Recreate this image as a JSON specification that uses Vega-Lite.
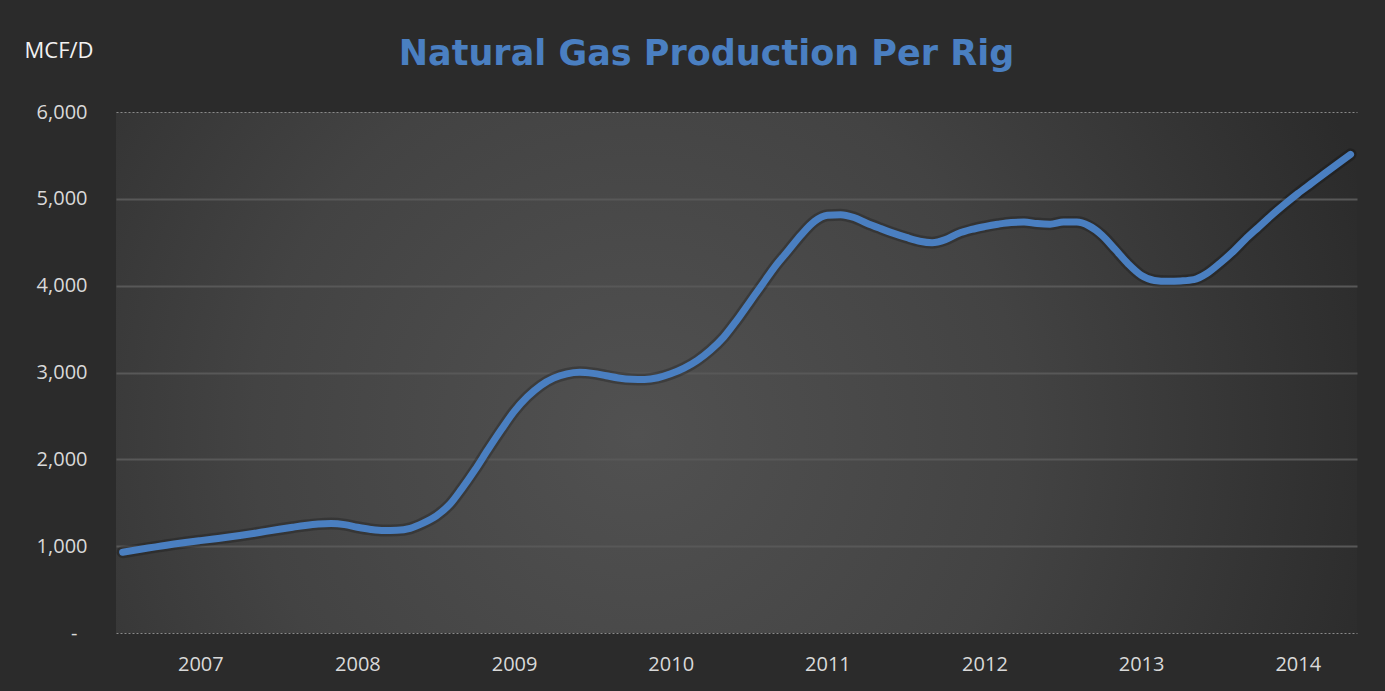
{
  "$schema": "https://vega.github.io/schema/vega-lite/v6.json",
  "width": 1241,
  "height": 521,
  "autosize": {"type": "none"},
  "padding": {"left": 116, "top": 112, "right": 28, "bottom": 58},
  "background": "#2b2b2b",
  "title": {
    "text": "Natural Gas Production Per Rig",
    "color": "#4a7fc1",
    "font": "DejaVu Sans",
    "fontSize": 35,
    "fontWeight": "bold",
    "anchor": "middle",
    "frame": "group",
    "baseline": "alphabetic",
    "dx": -30,
    "offset": -61
  },
  "data": {
    "values": [
      {"date": "2007/01/01", "mcfd": 930},
      {"date": "2007/02/01", "mcfd": 955},
      {"date": "2007/03/01", "mcfd": 978},
      {"date": "2007/04/01", "mcfd": 1001},
      {"date": "2007/05/01", "mcfd": 1024},
      {"date": "2007/06/01", "mcfd": 1045},
      {"date": "2007/07/01", "mcfd": 1064},
      {"date": "2007/08/01", "mcfd": 1083},
      {"date": "2007/09/01", "mcfd": 1102},
      {"date": "2007/10/01", "mcfd": 1122},
      {"date": "2007/11/01", "mcfd": 1145},
      {"date": "2007/12/01", "mcfd": 1170},
      {"date": "2008/01/01", "mcfd": 1195},
      {"date": "2008/02/01", "mcfd": 1218},
      {"date": "2008/03/01", "mcfd": 1238},
      {"date": "2008/04/01", "mcfd": 1254},
      {"date": "2008/05/01", "mcfd": 1260},
      {"date": "2008/06/01", "mcfd": 1248},
      {"date": "2008/07/01", "mcfd": 1218},
      {"date": "2008/08/01", "mcfd": 1193},
      {"date": "2008/09/01", "mcfd": 1180},
      {"date": "2008/10/01", "mcfd": 1182},
      {"date": "2008/11/01", "mcfd": 1205},
      {"date": "2008/12/01", "mcfd": 1265},
      {"date": "2009/01/01", "mcfd": 1350},
      {"date": "2009/02/01", "mcfd": 1480},
      {"date": "2009/03/01", "mcfd": 1660},
      {"date": "2009/04/01", "mcfd": 1880},
      {"date": "2009/05/01", "mcfd": 2110},
      {"date": "2009/06/01", "mcfd": 2340},
      {"date": "2009/07/01", "mcfd": 2550},
      {"date": "2009/08/01", "mcfd": 2720},
      {"date": "2009/09/01", "mcfd": 2850},
      {"date": "2009/10/01", "mcfd": 2935},
      {"date": "2009/11/01", "mcfd": 2985},
      {"date": "2009/12/01", "mcfd": 3003},
      {"date": "2010/01/01", "mcfd": 2990},
      {"date": "2010/02/01", "mcfd": 2962},
      {"date": "2010/03/01", "mcfd": 2937},
      {"date": "2010/04/01", "mcfd": 2922},
      {"date": "2010/05/01", "mcfd": 2920},
      {"date": "2010/06/01", "mcfd": 2940},
      {"date": "2010/07/01", "mcfd": 2985},
      {"date": "2010/08/01", "mcfd": 3050},
      {"date": "2010/09/01", "mcfd": 3140},
      {"date": "2010/10/01", "mcfd": 3255},
      {"date": "2010/11/01", "mcfd": 3405},
      {"date": "2010/12/01", "mcfd": 3595},
      {"date": "2011/01/01", "mcfd": 3810},
      {"date": "2011/02/01", "mcfd": 4025},
      {"date": "2011/03/01", "mcfd": 4220},
      {"date": "2011/04/01", "mcfd": 4405},
      {"date": "2011/05/01", "mcfd": 4585},
      {"date": "2011/06/01", "mcfd": 4740},
      {"date": "2011/07/01", "mcfd": 4810},
      {"date": "2011/08/01", "mcfd": 4818},
      {"date": "2011/09/01", "mcfd": 4785},
      {"date": "2011/10/01", "mcfd": 4720},
      {"date": "2011/11/01", "mcfd": 4660},
      {"date": "2011/12/01", "mcfd": 4605},
      {"date": "2012/01/01", "mcfd": 4555},
      {"date": "2012/02/01", "mcfd": 4512},
      {"date": "2012/03/01", "mcfd": 4495},
      {"date": "2012/04/01", "mcfd": 4530},
      {"date": "2012/05/01", "mcfd": 4600},
      {"date": "2012/06/01", "mcfd": 4647},
      {"date": "2012/07/01", "mcfd": 4680},
      {"date": "2012/08/01", "mcfd": 4708},
      {"date": "2012/09/01", "mcfd": 4728},
      {"date": "2012/10/01", "mcfd": 4732},
      {"date": "2012/11/01", "mcfd": 4715},
      {"date": "2012/12/01", "mcfd": 4708},
      {"date": "2013/01/01", "mcfd": 4732},
      {"date": "2013/02/01", "mcfd": 4732},
      {"date": "2013/03/01", "mcfd": 4690},
      {"date": "2013/04/01", "mcfd": 4580},
      {"date": "2013/05/01", "mcfd": 4420},
      {"date": "2013/06/01", "mcfd": 4250},
      {"date": "2013/07/01", "mcfd": 4120},
      {"date": "2013/08/01", "mcfd": 4060},
      {"date": "2013/09/01", "mcfd": 4050},
      {"date": "2013/10/01", "mcfd": 4055},
      {"date": "2013/11/01", "mcfd": 4070},
      {"date": "2013/12/01", "mcfd": 4140},
      {"date": "2014/01/01", "mcfd": 4260},
      {"date": "2014/02/01", "mcfd": 4395},
      {"date": "2014/03/01", "mcfd": 4535},
      {"date": "2014/04/01", "mcfd": 4675},
      {"date": "2014/05/01", "mcfd": 4810},
      {"date": "2014/06/01", "mcfd": 4940},
      {"date": "2014/07/01", "mcfd": 5060},
      {"date": "2014/08/01", "mcfd": 5175},
      {"date": "2014/09/01", "mcfd": 5290},
      {"date": "2014/10/01", "mcfd": 5400},
      {"date": "2014/11/01", "mcfd": 5512}
    ]
  },
  "encoding": {
    "x": {
      "field": "date",
      "type": "temporal",
      "scale": {
        "domain": [
          {"year": 2006, "month": 12, "date": 16, "hours": 12},
          {"year": 2014, "month": 11, "date": 16}
        ]
      },
      "axis": {
        "title": null,
        "values": [
          {"year": 2007, "month": 7, "date": 1},
          {"year": 2008, "month": 7, "date": 1},
          {"year": 2009, "month": 7, "date": 1},
          {"year": 2010, "month": 7, "date": 1},
          {"year": 2011, "month": 7, "date": 1},
          {"year": 2012, "month": 7, "date": 1},
          {"year": 2013, "month": 7, "date": 1},
          {"year": 2014, "month": 7, "date": 1}
        ],
        "format": "%Y",
        "grid": false,
        "domain": false,
        "ticks": false,
        "tickSize": 0,
        "labelPadding": 21,
        "labelFlush": false,
        "labelOverlap": false
      }
    },
    "y": {
      "field": "mcfd",
      "type": "quantitative",
      "scale": {"domain": [0, 6000], "nice": false, "zero": true},
      "axis": {
        "values": [0, 1000, 2000, 3000, 4000, 5000, 6000],
        "labelExpr": "datum.value === 0 ? '-\u2002\u200b' : format(datum.value, ',')",
        "grid": true,
        "gridColor": {"condition": {"test": "datum.value === 0 || datum.value === 6000", "value": "#8a8a8a"}, "value": "#585858"},
        "gridDash": {"condition": {"test": "datum.value === 0 || datum.value === 6000", "value": [2, 2]}, "value": []},
        "gridWidth": {"condition": {"test": "datum.value === 0 || datum.value === 6000", "value": 1}, "value": 2},
        "domain": false,
        "ticks": false,
        "tickSize": 0,
        "labelPadding": 29,
        "title": "MCF/D",
        "titleAngle": 0,
        "titleX": -92,
        "titleY": -55,
        "titleAlign": "left",
        "titleBaseline": "alphabetic",
        "titleFont": "Open Sans",
        "titleFontSize": 22,
        "titleFontWeight": "normal",
        "titleColor": "#f2f2f2"
      }
    }
  },
  "layer": [
    {
      "mark": {
        "type": "line",
        "interpolate": "monotone",
        "color": "#000000",
        "opacity": 0.22,
        "strokeWidth": 12,
        "strokeCap": "round",
        "strokeJoin": "round"
      }
    },
    {
      "mark": {
        "type": "line",
        "interpolate": "monotone",
        "color": "#4a7fc1",
        "strokeWidth": 7,
        "strokeCap": "round",
        "strokeJoin": "round"
      }
    }
  ],
  "config": {
    "font": "Open Sans",
    "axis": {
      "labelFont": "Open Sans",
      "labelFontSize": 20,
      "labelColor": "#d9d9d9"
    },
    "view": {
      "stroke": null,
      "fill": {
        "gradient": "radial",
        "x1": 0.42, "y1": 0.55, "r1": 0,
        "x2": 0.42, "y2": 0.55, "r2": 0.62,
        "stops": [
          {"offset": 0, "color": "#515151"},
          {"offset": 0.5, "color": "#434343"},
          {"offset": 1, "color": "#2b2b2b"}
        ]
      }
    }
  }
}
